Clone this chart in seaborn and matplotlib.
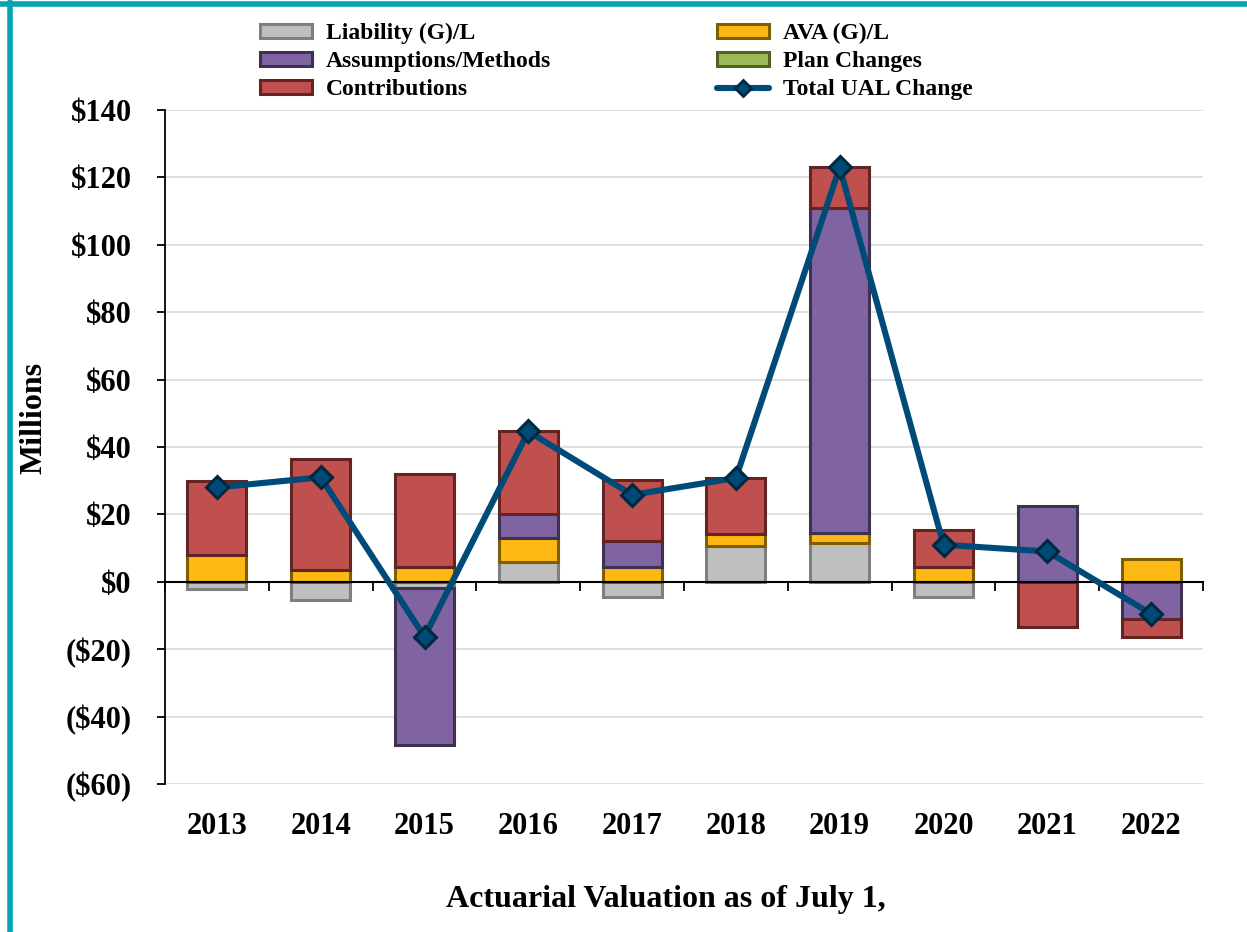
import numpy as np
import matplotlib
matplotlib.use("Agg")
import matplotlib.pyplot as plt
import seaborn as sns
from matplotlib.patches import Patch
from matplotlib.lines import Line2D
from matplotlib.ticker import FuncFormatter

# values in $ millions
years = ["2013", "2014", "2015", "2016", "2017", "2018", "2019", "2020", "2021", "2022"]
liability_gl = [-2.0, -5.5, -1.7, 6.0, -4.5, 10.5, 11.5, -4.5, 0.0, 0.0]
ava_gl = [8.0, 3.5, 4.3, 7.0, 4.5, 3.7, 3.0, 4.5, 0.0, 6.8]
assumptions = [0.0, 0.0, -46.8, 7.0, 7.5, 0.0, 96.5, 0.0, 22.5, -11.0]
plan_changes = [0.0, 0.0, 0.0, 0.0, 0.0, 0.0, 0.0, 0.0, 0.0, 0.0]
contributions = [22.0, 33.0, 27.7, 24.6, 18.3, 16.6, 12.0, 10.9, -13.5, -5.3]
total_ual = [28.0, 31.0, -16.3, 44.6, 25.8, 30.8, 123.0, 11.0, 9.0, -9.5]

yticks = list(range(-60, 141, 20))

layers = [
    ("Liability (G)/L", liability_gl, "#BFBFBF", "#7F7F7F"),
    ("AVA (G)/L", ava_gl, "#FDB813", "#7F6000"),
    ("Assumptions/Methods", assumptions, "#8064A2", "#3F3151"),
    ("Plan Changes", plan_changes, "#9BBB59", "#4F6228"),
    ("Contributions", contributions, "#C0504D", "#632523"),
]
line_color = "#004A78"
line_edge = "#00283F"

sns.set_style("white")
plt.rcParams["font.family"] = ["Liberation Serif", "DejaVu Serif"]
plt.rcParams["font.weight"] = "bold"
plt.rcParams["text.color"] = "black"
plt.rcParams["xtick.color"] = "black"
plt.rcParams["ytick.color"] = "black"
plt.rcParams["axes.labelcolor"] = "black"

W, H = 1247, 932
fig = plt.figure(figsize=(W / 100, H / 100), dpi=100)
ax = fig.add_axes([165 / W, (H - 784) / H, (1203 - 165) / W, (784 - 110) / H])

x = np.arange(len(years))
pos_base = np.zeros(len(years))
neg_base = np.zeros(len(years))
for name, vals, fc, ec in layers:
    v = np.array(vals, dtype=float)
    bottom = np.where(v >= 0, pos_base, neg_base)
    m = v != 0
    if m.any():
        ax.bar(x[m], v[m], width=0.57, bottom=bottom[m], color=fc,
               edgecolor=ec, linewidth=2.2, zorder=3)
    pos_base += np.where(v > 0, v, 0)
    neg_base += np.where(v < 0, v, 0)

sns.lineplot(x=x, y=total_ual, ax=ax, color=line_color, linewidth=4.4,
             marker="D", markersize=11, markerfacecolor=line_color,
             markeredgecolor=line_edge, markeredgewidth=2.2,
             sort=False, legend=False, zorder=5)

ax.set_xlim(-0.5, len(years) - 0.5)
ax.set_ylim(-60, 140)
ax.set_yticks(yticks)
ax.yaxis.set_major_formatter(FuncFormatter(
    lambda v, p: f"${v:.0f}" if v >= 0 else f"(${-v:.0f})"))
ax.grid(axis="y", color="#D9D9D9", linewidth=1.2, zorder=0)
ax.set_axisbelow(True)

for s in ["top", "right"]:
    ax.spines[s].set_visible(False)
ax.spines["left"].set_color("black")
ax.spines["left"].set_linewidth(1.3)
ax.spines["bottom"].set_position(("data", 0))
ax.spines["bottom"].set_color("black")
ax.spines["bottom"].set_linewidth(1.5)
ax.spines["bottom"].set_zorder(4)

ax.set_xticks(np.arange(-0.5, len(years), 1.0))
ax.tick_params(axis="x", direction="out", length=6.5, width=1.3,
               labelbottom=False, bottom=True, color="black")
ax.tick_params(axis="y", direction="out", length=6, width=1.3, left=True,
               pad=18, labelsize=22, color="black", labelcolor="black")
for lab in ax.get_yticklabels():
    lab.set_fontweight("bold")

secax = ax.secondary_xaxis("bottom")
secax.set_xticks(x, labels=years)
secax.spines["bottom"].set_visible(False)
secax.tick_params(length=0, pad=20, labelsize=22, labelcolor="black")
for lab in secax.get_xticklabels():
    lab.set_fontweight("bold")

fig.text(34 / W, 1 - 418 / H, "Millions", rotation=90, ha="center",
         va="center", fontsize=23, fontweight="bold", color="black")
fig.text(666 / W, 1 - 900 / H, "Actuarial Valuation as of July 1,",
         ha="center", va="center", fontsize=23, fontweight="bold",
         color="black")

handles = []
order = [0, 2, 4, 1, 3]
for i in order:
    name, _, fc, ec = layers[i]
    handles.append(Patch(facecolor=fc, edgecolor=ec, linewidth=2.2, label=name))
handles.append(Line2D([0], [0], color=line_color, linewidth=4.4, marker="D",
                      markersize=8, markerfacecolor=line_color,
                      markeredgecolor=line_edge, markeredgewidth=2,
                      label="Total UAL Change"))
leg = fig.legend(handles=handles, ncol=2, loc="upper left",
                 bbox_to_anchor=(260 / W, 1 - 23 / H), frameon=False,
                 prop={"family": "Liberation Serif", "weight": "bold", "size": 17},
                 handlelength=2.2, handleheight=0.55, handletextpad=0.6,
                 labelspacing=0.3, columnspacing=7.0, borderpad=0,
                 borderaxespad=0)
for t in leg.get_texts():
    t.set_color("black")

# teal frame on top and left edge
teal = "#05A3B3"
fig.add_artist(Line2D([0, 1], [1 - 3.5 / H, 1 - 3.5 / H], color=teal,
                      linewidth=4, transform=fig.transFigure))
fig.add_artist(Line2D([9.5 / W, 9.5 / W], [0, 1 - 1.5 / H], color=teal,
                      linewidth=4, transform=fig.transFigure))

fig.savefig("out.png", dpi=100)
